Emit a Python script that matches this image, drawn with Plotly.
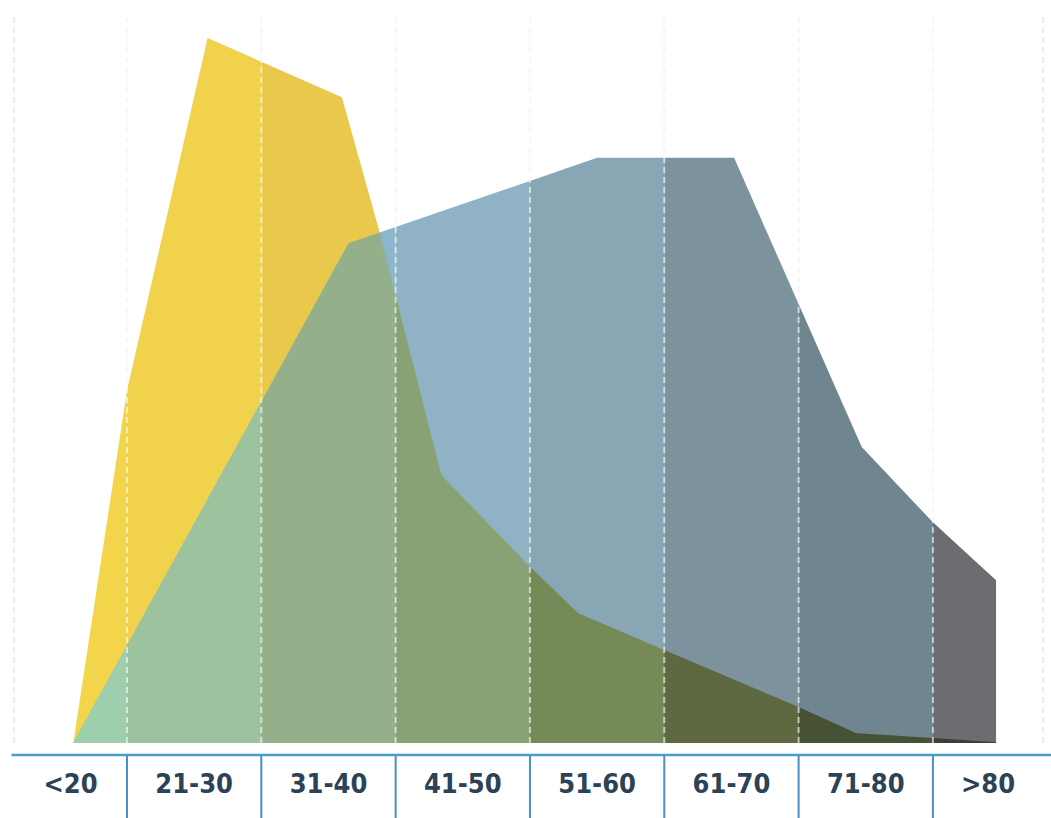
import numpy as np
import plotly.graph_objects as go

# ---------------- data ----------------
categories = ["<20", "21-30", "31-40", "41-50", "51-60", "61-70", "71-80", ">80"]
column_edges = [11.6, 20, 30, 40, 50, 60, 70, 80, 88.2]   # age bands (x axis, years)

young_age = [16, 20, 26, 36, 38.7, 43.4, 50, 53.6, 60, 70, 74.3, 80, 84.7]
young_val = [0, 50, 100, 91.6, 73.2, 38, 25, 18.4, 13.2, 5.1, 1.4, 0.7, 0.1]

old_age = [16, 36.5, 55, 65.2, 74.7, 80, 84.7]
old_val = [0, 70.9, 83, 83, 42, 31.3, 23.1]

# per-column shades (columns darken to the right)
yellow_cols = ["#f3d54b", "#f1d24c", "#e9c84b", "#e3c048", "#dcb845", "#d4b042", "#cca840", "#c4a03e"]
blue_cols = ["#92bcd0", "#90b9cd", "#8cb6cb", "#8fb3c5", "#88a6b3", "#7c939e", "#6f8690", "#6b6d71"]
green_cols = ["#9dcfae", "#9cc39e", "#93b08b", "#88a276", "#768a58", "#5e6942", "#475133", "#3c3f37"]

# ---------------- helpers ----------------
def clip(xs, ys, a, b):
    lo, hi = max(a, xs[0]), min(b, xs[-1])
    if hi <= lo:
        return None
    pts = [(lo, float(np.interp(lo, xs, ys)))]
    pts += [(x, y) for x, y in zip(xs, ys) if lo < x < hi]
    pts.append((hi, float(np.interp(hi, xs, ys))))
    return [p[0] for p in pts], [p[1] for p in pts]


def lower_envelope(x1, y1, x2, y2):
    lo, hi = max(x1[0], x2[0]), min(x1[-1], x2[-1])
    xs = sorted(set([x for x in x1 + x2 if lo <= x <= hi]))
    extra = []
    for i in range(len(xs) - 1):
        d0 = np.interp(xs[i], x1, y1) - np.interp(xs[i], x2, y2)
        d1 = np.interp(xs[i + 1], x1, y1) - np.interp(xs[i + 1], x2, y2)
        if d0 * d1 < 0:
            t = d0 / (d0 - d1)
            extra.append(xs[i] + t * (xs[i + 1] - xs[i]))
    xs = sorted(xs + extra)
    ys = [float(min(np.interp(x, x1, y1), np.interp(x, x2, y2))) for x in xs]
    return xs, ys


env_x, env_y = lower_envelope(young_age, young_val, old_age, old_val)

fig = go.Figure()
for i in range(len(categories)):
    a, b = column_edges[i], column_edges[i + 1]
    for (xs, ys), col in (((young_age, young_val), yellow_cols[i]),
                          ((old_age, old_val), blue_cols[i]),
                          ((env_x, env_y), green_cols[i])):
        c = clip(xs, ys, a, b)
        if c is None:
            continue
        fig.add_trace(go.Scatter(x=c[0], y=c[1], mode="lines", fill="tozeroy",
                                 fillcolor=col, line=dict(width=0, color=col),
                                 hoverinfo="skip", showlegend=False))

shapes = []
for e in column_edges:
    shapes.append(dict(type="line", xref="x", yref="y", x0=e, x1=e, y0=0, y1=103.3,
                       line=dict(color="#ececec", width=2, dash="6px,4px"), layer="below"))
for e in column_edges[1:-1]:
    shapes.append(dict(type="line", xref="x", yref="y", x0=e, x1=e, y0=0, y1=103.3,
                       line=dict(color="rgba(255,255,255,0.6)", width=2, dash="6px,4px"),
                       layer="above"))
    shapes.append(dict(type="line", xref="x", yref="paper", x0=e, x1=e, y0=0, y1=-0.09,
                       line=dict(color="#4a8fc2", width=2), layer="above"))
shapes.append(dict(type="line", xref="x", yref="paper", x0=11.4, x1=88.8, y0=0, y1=0,
                   line=dict(color="#4a9bd0", width=2.5), layer="above"))

centers = [(column_edges[i] + column_edges[i + 1]) / 2 for i in range(len(categories))]

fig.update_layout(
    width=1051, height=818,
    margin=dict(l=0, r=0, t=0, b=63),
    paper_bgcolor="white", plot_bgcolor="white",
    shapes=shapes,
    xaxis=dict(range=[10.546, 88.79], showgrid=False, zeroline=False, showline=False,
               tickmode="array", tickvals=centers, ticktext=categories, ticks="",
               ticklabelstandoff=10,
               tickfont=dict(family="DejaVu Sans Condensed, Liberation Sans Narrow, sans-serif",
                             size=27, color="#2c4256", weight="bold")),
    yaxis=dict(range=[-1.70, 105.39], visible=False, showgrid=False, zeroline=False),
)

fig.write_html("out.html", config={"displayModeBar": False},
               post_script="document.body.style.margin='0';document.body.style.overflow='hidden';")
